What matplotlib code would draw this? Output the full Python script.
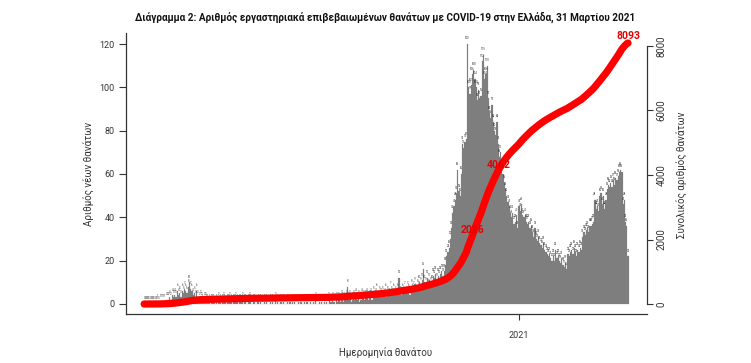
import numpy as np
import pandas as pd
import matplotlib
matplotlib.use("Agg")
import matplotlib.pyplot as plt
import matplotlib.dates as mdates

plt.rcParams['font.family'] = ['Roboto', 'DejaVu Sans']

# Daily lab-confirmed COVID-19 deaths in Greece by date of death
start_date = "2020-03-01"
deaths_2020_03 = [0,0,0,0,0,0,0,0,0,0,0,1,0,1,1,1,1,1,2,2,2,3,2,4,3,4,3,6,4,5,3]
deaths_2020_04 = [6,5,7,6,5,8,10,7,6,4,5,3,6,3,2,3,2,1,2,2,1,1,1,0,1,1,1,0,1,0]
deaths_2020_05 = [2,1,0,1,2,1,0,1,1,2,1,0,1,1,2,1,0,1,1,2,0,1,1,0,1,2,1,0,1,1,0]
deaths_2020_06 = [0,1,0,1,0,0,1,0,1,0,0,1,0,1,0,2,0,1,0,1,1,0,1,0,0,1,0,1,0,1]
deaths_2020_07 = [0,1,0,0,1,0,1,0,0,1,0,1,0,0,1,0,1,0,2,0,0,1,0,1,0,1,0,1,0,2,1]
deaths_2020_08 = [1,2,1,0,2,1,2,1,3,2,1,2,3,8,2,3,1,2,3,2,4,2,3,1,2,4,3,2,3,4,2]
deaths_2020_09 = [3,4,2,5,3,4,6,3,5,4,3,5,4,6,3,5,4,7,5,4,6,5,4,6,12,5,4,6,5,7]
deaths_2020_10 = [5,7,6,4,8,6,7,9,6,8,7,10,9,11,16,10,9,12,8,11,9,10,13,12,14,11,13,12,14,15,13]
deaths_2020_11 = [15,18,22,24,26,30,35,42,45,48,51,62,52,50,60,74,72,75,76,120,
                  100,97,101,106,108,104,100,94,99,95]
deaths_2020_12 = [96,112,115,104,106,110,95,88,86,92,84,80,78,84,74,68,70,62,60,56,
                  53,50,47,45,42,40,42,37,38,41,35]
deaths_2021_01 = [45,43,46,41,40,41,38,37,38,35,36,33,31,35,30,29,31,28,27,26,
                  28,25,24,23,22,23,21,20,22,20,25]
deaths_2021_02 = [21,22,20,19,21,18,17,19,16,23,22,24,25,23,26,24,22,25,24,26,
                  25,31,33,32,34,35,33,36]
deaths_2021_03 = [36,37,38,48,44,45,43,50,51,46,50,44,48,53,55,54,56,54,57,55,
                  58,57,59,61,62,61,46,48,38,36,22]

title = "Διάγραμμα 2: Αριθμός εργαστηριακά επιβεβαιωμένων θανάτων με COVID-19 στην Ελλάδα, 31 Μαρτίου 2021"
ylabel_left = "Αριθμός νέων θανάτων"
ylabel_right = "Συνολικός αριθμός θανάτων"
xlabel = "Ημερομηνία θανάτου"
left_ticks = [0, 20, 40, 60, 80, 100, 120]
right_ticks = [0, 2000, 4000, 6000, 8000]
year_tick_date = "2021-01-01"
year_tick_label = "2021"

daily = np.array(deaths_2020_03 + deaths_2020_04 + deaths_2020_05 + deaths_2020_06 +
                 deaths_2020_07 + deaths_2020_08 + deaths_2020_09 + deaths_2020_10 +
                 deaths_2020_11 + deaths_2020_12 + deaths_2021_01 + deaths_2021_02 +
                 deaths_2021_03)
dates = pd.date_range(start_date, periods=len(daily), freq="D")
xnum = mdates.date2num(dates)
cum = np.cumsum(daily)

W, H = 751, 363
fig = plt.figure(figsize=(W / 100, H / 100), dpi=100)
ax_l, ax_r, ax_t, ax_b = 126, 647, 33, 314
ax = fig.add_axes([ax_l / W, 1 - ax_b / H, (ax_r - ax_l) / W, (ax_b - ax_t) / H])

bar_color = "#7e7e7e"
ax.bar(xnum, daily, width=1.0, color=bar_color, edgecolor=bar_color, linewidth=0.15, zorder=2)
for xv, v in zip(xnum, daily):
    ax.text(xv, v + 2.6, str(v), fontsize=2.0, color="#2e2e2e", ha="center", va="center", zorder=3)

jan1 = mdates.date2num(pd.Timestamp(year_tick_date))
px_per_day = 1.225
ax.set_xlim(jan1 - (519 - ax_l) / px_per_day, jan1 + (ax_r - 519) / px_per_day)
ax.set_ylim(-4.62, 125.08)
ax.set_yticks(left_ticks)
ax.set_yticklabels([str(t) for t in left_ticks])
ax.set_xticks([jan1])
ax.set_xticklabels([year_tick_label])

for s in ["top", "right"]:
    ax.spines[s].set_visible(False)
for s in ["left", "bottom"]:
    ax.spines[s].set_color("#333333")
    ax.spines[s].set_linewidth(0.9)
ax.tick_params(axis="y", length=5, width=0.8, pad=3, labelsize=6.5, colors="#333333")
ax.tick_params(axis="x", length=4.5, width=0.8, pad=8, labelsize=6.5, colors="#333333")

ax.set_ylabel(ylabel_left, fontsize=7, color="#333333")
ax.yaxis.label.set_va("center")
ax.yaxis.label.set_ha("center")
ax.yaxis.set_label_coords((89 - ax_l) / (ax_r - ax_l), 0.5 + ((ax_b + ax_t) / 2 - 174) / (ax_b - ax_t))
ax.set_xlabel(xlabel, fontsize=7, color="#333333")
ax.xaxis.label.set_va("center")
ax.xaxis.label.set_ha("center")
ax.xaxis.set_label_coords((386 - ax_l) / (ax_r - ax_l), (ax_b - 353) / (ax_b - ax_t))

ax2 = ax.twinx()
ax2.set_position(ax.get_position())
ax2.plot(xnum, cum, color="#ff0000", lw=5.2, solid_capstyle="round", zorder=4)
ax2.set_ylim(-310, 8403)
ax2.set_yticks(right_ticks)
ax2.set_yticklabels([str(t) for t in right_ticks])
for s in ["top", "left", "bottom"]:
    ax2.spines[s].set_visible(False)
ax2.spines["right"].set_bounds(0, 8000)
ax2.spines["right"].set_color("#333333")
ax2.spines["right"].set_linewidth(0.9)
ax2.tick_params(axis="y", length=4, width=0.8, pad=3, labelsize=7, colors="#333333")
for lab in ax2.get_yticklabels():
    lab.set_rotation(90)
    lab.set_va("center")
    lab.set_ha("left")
ax2.set_ylabel(ylabel_right, fontsize=7, color="#333333", rotation=90)
ax2.yaxis.label.set_va("center")
ax2.yaxis.label.set_ha("center")
ax2.yaxis.set_label_coords((682 - ax_l) / (ax_r - ax_l), 0.5 + ((ax_b + ax_t) / 2 - 175) / (ax_b - ax_t))

total = cum[-1]
for frac in (0.25, 0.5):
    i = int(np.argmax(cum >= total * frac))
    ax2.annotate(str(cum[i]), (xnum[i], cum[i]), xytext=(1, 6), textcoords="offset points",
                 ha="center", va="center", fontsize=7.5, fontweight="bold", color="#e60000", zorder=5)
ax2.annotate(str(total), (xnum[-1], cum[-1]), xytext=(0, 5), textcoords="offset points",
             ha="center", va="center", fontsize=7.5, fontweight="bold", color="#e60000", zorder=5)

t = fig.text(385 / W, 1 - 17 / H, title, ha="center", va="center", fontsize=9,
             fontweight="bold", color="#111111")
fig.canvas.draw()
tw = t.get_window_extent(fig.canvas.get_renderer()).width
t.set_fontsize(9 * 500 / tw)

fig.savefig("out.png", dpi=100, facecolor="white")
